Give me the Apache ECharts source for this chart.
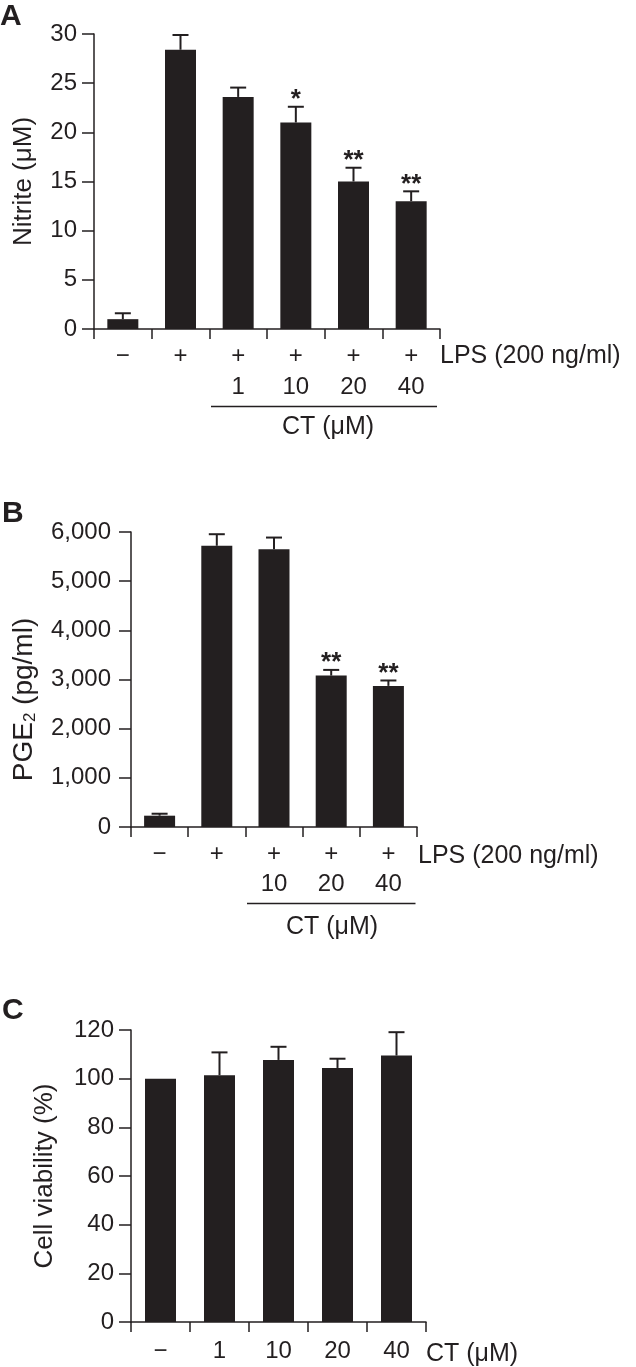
<!DOCTYPE html>
<html><head><meta charset="utf-8">
<script src="https://cdn.jsdelivr.net/npm/echarts@6/dist/echarts.min.js"></script>
<style>html,body{margin:0;padding:0;background:#fff}#c{width:636px;height:1367px}</style>
</head><body><div id="c"></div>
<script>
// Panel A: Nitrite
const catA = ['a0','a1','a2','a3','a4','a5'];
const lpsA = ['\u2212','+','+','+','+','+'];
const ctA = ['','','1','10','20','40'];
const nitrite = [1.0, 28.4, 23.6, 21.0, 15.0, 13.0];
const nitriteErr = [0.6, 1.5, 0.95, 1.6, 1.4, 1.0];
const sigA = ['', '', '', '*', '**', '**'];
const ticksA = [0, 5, 10, 15, 20, 25, 30];

// Panel B: PGE2
const catB = ['b0','b1','b2','b3','b4'];
const lpsB = ['\u2212','+','+','+','+'];
const ctB = ['','','10','20','40'];
const pge2 = [230, 5720, 5650, 3080, 2870];
const pge2Err = [40, 235, 237, 115, 110];
const sigB = ['', '', '', '**', '**'];
const ticksB = [0, 1000, 2000, 3000, 4000, 5000, 6000];

// Panel C: Cell viability
const catC = ['\u2212','1','10','20','40'];
const viability = [100, 101.4, 107.7, 104.4, 109.5];
const viabilityErr = [0, 9.4, 5.4, 3.8, 9.6];
const sigC = ['', '', '', '', ''];
const ticksC = [0, 20, 40, 60, 80, 100, 120];

const INK = '#231f20';
const FONT = 'Liberation Sans, Arial, sans-serif';

const grids = [
  {left: 94, top: 34, width: 346, height: 295},
  {left: 131, top: 532, width: 286, height: 295},
  {left: 131, top: 1030, width: 295, height: 295}
];

function makeX(idx, cats, fmt, name, nameGap, margin, lh, namePad) {
  return {
    type: 'category', gridIndex: idx, data: cats,
    axisLine: {lineStyle: {color: INK, width: 1.5}},
    axisTick: {show: true, length: 10, inside: false, alignWithLabel: false, lineStyle: {color: INK, width: 1.5}},
    axisLabel: {interval: 0, margin: margin, color: INK, fontSize: 24, fontFamily: FONT, lineHeight: lh, formatter: fmt},
    name: name, nameLocation: 'end', nameGap: nameGap,
    nameTextStyle: {color: INK, fontSize: 25, fontFamily: FONT, align: 'left', verticalAlign: 'top', padding: [namePad, 0, 0, 0]}
  };
}
function makeY(idx, ticks, name, nameGap, margin, fmt, rich, nameSize, namePadding) {
  const step = ticks[1] - ticks[0];
  return {
    type: 'value', gridIndex: idx, min: ticks[0], max: ticks[ticks.length - 1], interval: step,
    splitLine: {show: false},
    axisLine: {show: true, lineStyle: {color: INK, width: 1.5}},
    axisTick: {show: true, length: 12, lineStyle: {color: INK, width: 1.5}},
    axisLabel: {color: INK, fontSize: 24, fontFamily: FONT, margin: margin, formatter: fmt},
    name: name, nameLocation: 'middle', nameRotate: 90, nameGap: nameGap,
    nameTextStyle: {color: INK, fontSize: nameSize || 26, fontFamily: FONT, rich: rich, padding: namePadding || 0}
  };
}

function errRenderer(vals, errs, sigs) {
  return function (params, api) {
    const i = params.dataIndex;
    const v = vals[i], e = errs[i];
    const base = api.coord([i, v]);
    const top = api.coord([i, v + e]);
    const children = [];
    if (e > 0) {
      children.push({type: 'line', shape: {x1: base[0], y1: base[1], x2: top[0], y2: top[1]}, style: {stroke: INK, lineWidth: 2}});
      children.push({type: 'line', shape: {x1: top[0] - 8, y1: top[1], x2: top[0] + 8, y2: top[1]}, style: {stroke: INK, lineWidth: 2}});
    }
    if (sigs[i]) {
      children.push({type: 'text', x: top[0], y: top[1] - 7, style: {text: sigs[i], fill: INK, font: 'bold 26px ' + FONT, textAlign: 'center', textVerticalAlign: 'middle'}});
    }
    return {type: 'group', children: children};
  };
}

function barSeries(idx, vals) {
  return {type: 'bar', xAxisIndex: idx, yAxisIndex: idx, data: vals, barWidth: 31,
    itemStyle: {color: INK}, silent: true, animation: false};
}
function errSeries(idx, vals, errs, sigs) {
  return {type: 'custom', xAxisIndex: idx, yAxisIndex: idx, z: 5, silent: true, animation: false,
    data: vals.map((v, i) => [i, v]), renderItem: errRenderer(vals, errs, sigs), clip: false};
}

const thousands = v => v === 0 ? '0' : (v / 1000) + ',000';

const fmtA = (val, i) => lpsA[i] + '\n' + (ctA[i] || ' ');
const fmtB = (val, i) => lpsB[i] + '\n' + (ctB[i] || ' ');

const chart = echarts.init(document.getElementById('c'), null, {renderer: 'canvas'});
const option = {
  backgroundColor: '#fff',
  animation: false,
  grid: grids.map(g => Object.assign({containLabel: false}, g)),
  xAxis: [
    makeX(0, catA, fmtA, 'LPS (200 ng/ml)', 0, 12, 31, 15),
    makeX(1, catB, fmtB, 'LPS (200 ng/ml)', 1, 12, 30, 17),
    makeX(2, catC, null, 'CT (\u03bcM)', 0, 13, 32, 20)
  ],
  yAxis: [
    makeY(0, ticksA, 'Nitrite (\u03bcM)', 57, 17, null, null),
    makeY(1, ticksB, '{a|PGE}{s|2}{a| (pg/ml)}', 92, 20, thousands, {
      a: {fontSize: 28, fontFamily: FONT, color: INK},
      s: {fontSize: 17, fontFamily: FONT, color: INK, padding: [13, 0, 0, 0]}
    }, 28, [0, 40, 0, 0]),
    makeY(2, ticksC, 'Cell viability (%)', 73, 17, null, null)
  ],
  series: [
    barSeries(0, nitrite), errSeries(0, nitrite, nitriteErr, sigA),
    barSeries(1, pge2), errSeries(1, pge2, pge2Err, sigB),
    barSeries(2, viability), errSeries(2, viability, viabilityErr, sigC)
  ],
  graphic: [
    {type: 'text', left: 0, top: 2, style: {text: 'A', font: 'bold 30px ' + FONT, fill: INK}},
    {type: 'text', left: 2, top: 499, style: {text: 'B', font: 'bold 30px ' + FONT, fill: INK}},
    {type: 'text', left: 2, top: 996, style: {text: 'C', font: 'bold 30px ' + FONT, fill: INK}},
    {type: 'line', shape: {x1: 211, y1: 406.5, x2: 437, y2: 406.5}, style: {stroke: INK, lineWidth: 1.5}},
    {type: 'text', x: 328, y: 427, style: {text: 'CT (\u03bcM)', font: '25px ' + FONT, fill: INK, textAlign: 'center', textVerticalAlign: 'middle'}},
    {type: 'line', shape: {x1: 247, y1: 903.5, x2: 415.5, y2: 903.5}, style: {stroke: INK, lineWidth: 1.5}},
    {type: 'text', x: 332, y: 927, style: {text: 'CT (\u03bcM)', font: '25px ' + FONT, fill: INK, textAlign: 'center', textVerticalAlign: 'middle'}}
  ]
};
chart.setOption(option);
</script>
</body></html>
